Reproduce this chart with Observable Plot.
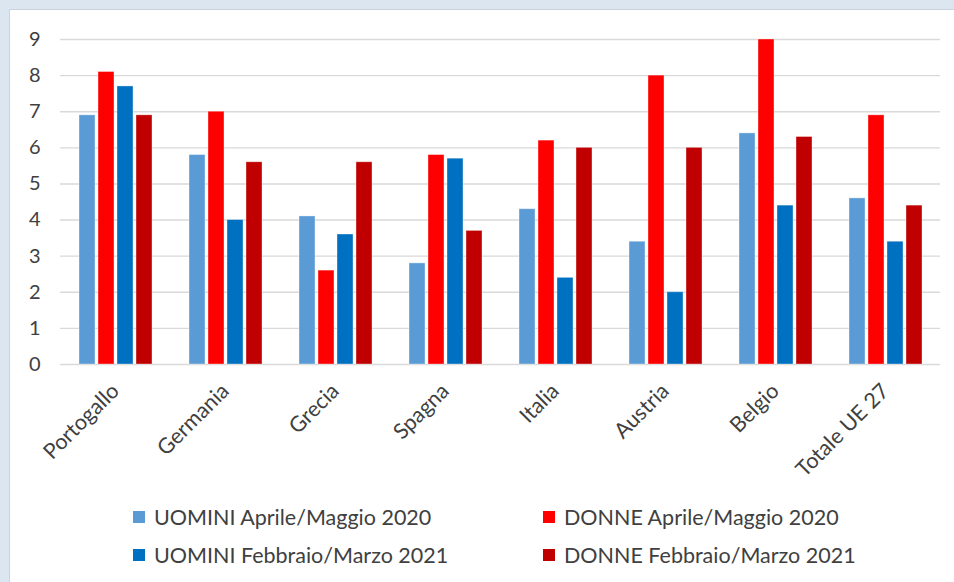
<!DOCTYPE html>
<html><head><meta charset="utf-8">
<script src="https://cdn.jsdelivr.net/npm/d3@7"></script>
<script src="https://cdn.jsdelivr.net/npm/@observablehq/plot@0.6"></script>
<style>
html,body{margin:0;padding:0;}
body{background:#dce6f1;width:954px;height:582px;overflow:hidden;font-family:Lato,"Noto Sans",sans-serif;position:relative;}
#panel{position:absolute;left:9px;top:9px;width:960px;height:600px;background:#fff;border:1px solid #cdd3da;}
#chart{position:absolute;left:0;top:0;}
#legend{position:absolute;left:133px;top:503px;display:grid;grid-template-columns:410px 320px;grid-auto-rows:38px;}
.item{font-size:21.5px;color:#404040;display:flex;align-items:center;white-space:nowrap;height:28px;}
.sw{width:12px;height:12px;margin-right:9px;flex:none;}
</style></head><body>
<div id="panel"></div>
<div id="chart"></div>
<div id="legend"></div>
<script>
// ---- data ----
const countries = ["Portogallo","Germania","Grecia","Spagna","Italia","Austria","Belgio","Totale UE 27"];
const seriesNames = ["UOMINI Aprile/Maggio 2020","DONNE Aprile/Maggio 2020","UOMINI Febbraio/Marzo 2021","DONNE Febbraio/Marzo 2021"];
const seriesColors = ["#5b9bd5","#ff0000","#0070c0","#c00000"];
const uominiAprMag2020 = [6.9, 5.8, 4.1, 2.8, 4.3, 3.4, 6.4, 4.6];
const donneAprMag2020  = [8.1, 7.0, 2.6, 5.8, 6.2, 8.0, 9.0, 6.9];
const uominiFebMar2021 = [7.7, 4.0, 3.6, 5.7, 2.4, 2.0, 4.4, 3.4];
const donneFebMar2021  = [6.9, 5.6, 5.6, 3.7, 6.0, 6.0, 6.3, 4.4];
const yTicks = [0,1,2,3,4,5,6,7,8,9];

const seriesValues = [uominiAprMag2020, donneAprMag2020, uominiFebMar2021, donneFebMar2021];
const table = [];
countries.forEach((c, i) => seriesNames.forEach((s, j) => table.push({country: c, series: s, value: seriesValues[j][i]})));

const font = "Lato, 'Noto Sans', sans-serif";
const chart = Plot.plot({
  width: 954,
  height: 474,
  marginLeft: 60,
  marginRight: 14,
  marginTop: 39,
  marginBottom: 110,
  style: {fontFamily: font, fontSize: "20px", color: "#404040", background: "transparent", overflow: "visible"},
  fx: {domain: countries, padding: 0},
  x: {domain: seriesNames, paddingInner: 0.18, paddingOuter: 0.86, axis: null},
  y: {domain: [0, 9]},
  color: {domain: seriesNames, range: seriesColors},
  marks: [
    Plot.ruleY(yTicks, {stroke: "#d9d9d9", strokeWidth: 1.4}),
    Plot.barY(table, {fx: "country", x: "series", y: "value", fill: "series", stroke: "#ffffff", strokeOpacity: 0.45, strokeWidth: 0.8}),
    Plot.axisY(yTicks, {tickSize: 0, tickPadding: 20, label: null, fontSize: 20, fill: "#404040"}),
    Plot.axisFx({anchor: "bottom", tickRotate: -45, tickSize: 0, tickPadding: 23, label: null, fontSize: 21.5, fill: "#404040"})
  ]
});
document.getElementById("chart").appendChild(chart);

const legend = document.getElementById("legend");
[0, 1, 2, 3].forEach(j => {
  const it = document.createElement("div");
  it.className = "item";
  const sw = document.createElement("span");
  sw.className = "sw";
  sw.style.background = seriesColors[j];
  it.appendChild(sw);
  it.appendChild(document.createTextNode(seriesNames[j]));
  legend.appendChild(it);
});
</script>
</body></html>
